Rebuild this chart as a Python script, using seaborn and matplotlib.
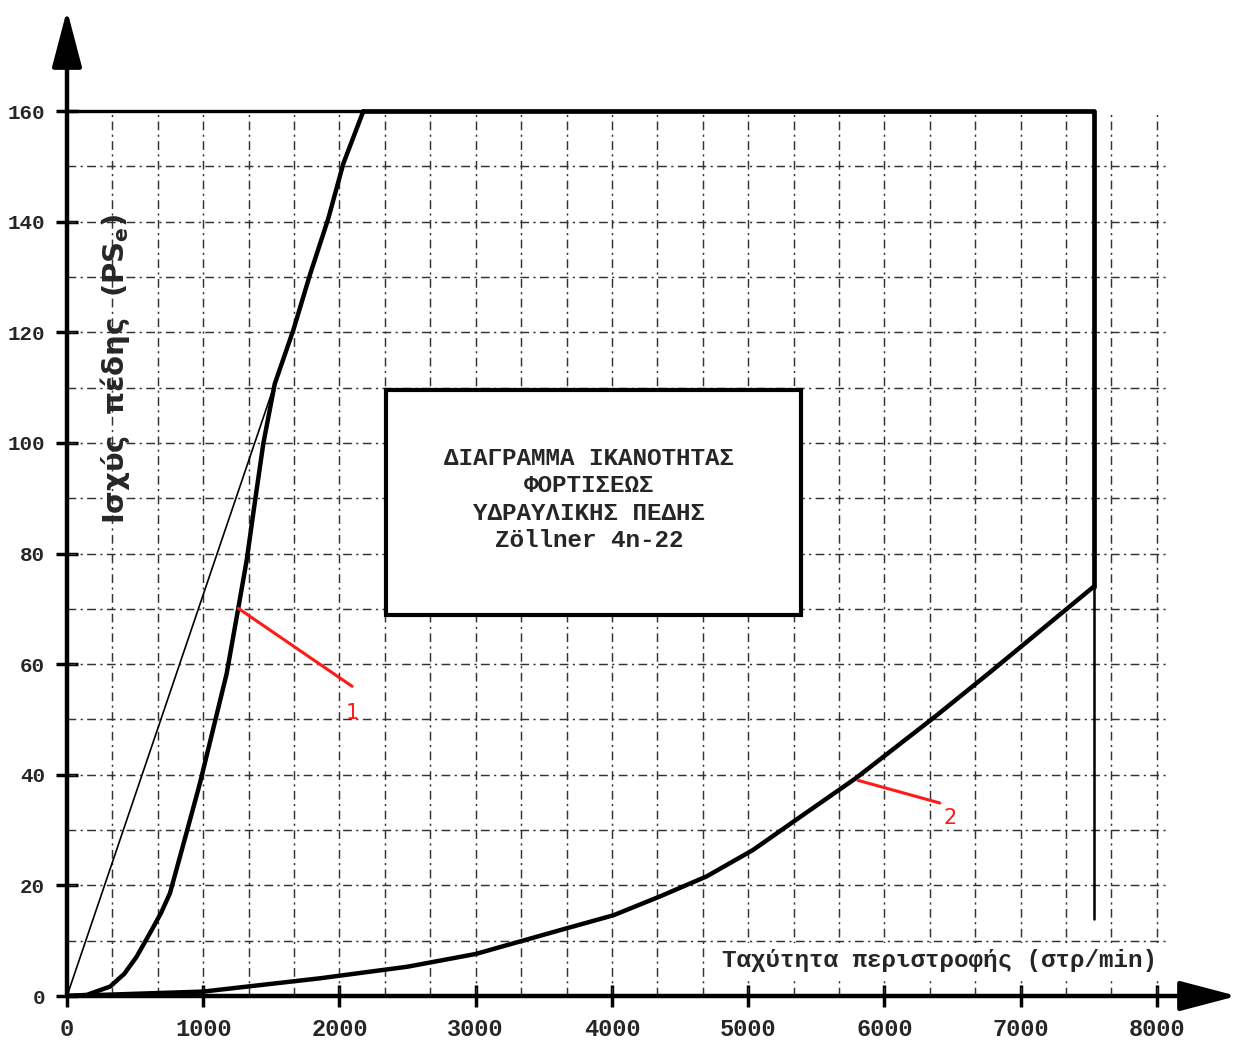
import numpy as np
import pandas as pd
import seaborn as sns
import matplotlib.pyplot as plt
from matplotlib.patches import Rectangle

# values: speed (rpm) vs brake power (PS)
curve1_rpm = [0, 145, 316, 420, 511, 621, 690, 756, 866, 976, 1074, 1172, 1257, 1319, 1380,
              1441, 1525, 1661, 1783, 1918, 2028, 2175]
curve1_ps = [0, 0.2, 1.7, 4.0, 7.1, 11.9, 15.0, 18.6, 28.5, 38.5, 48.4, 58.3, 70.1, 78.8, 89.5,
             99.9, 110.7, 120.4, 130.4, 140.6, 150.5, 160]

torque_rpm = [0, 1525]
torque_ps = [0, 110.7]

curve2_rpm = [0, 1000, 1857, 2500, 3000, 3618, 4011, 4352, 4693, 5035, 5348, 5791, 6371,
              6763, 7535]
curve2_ps = [0, 0.8, 3.2, 5.3, 7.6, 11.9, 14.6, 18.0, 21.6, 26.4, 31.8, 39.4, 50.5,
             58.3, 74.0]

top_rpm = [0, 2175]
top_ps = [160, 160]
limit_rpm = [2175, 7535, 7535]
limit_ps = [160, 160, 74]
tail_rpm = [7535, 7535]
tail_ps = [74, 14]

x_ticks = [0, 1000, 2000, 3000, 4000, 5000, 6000, 7000, 8000]
y_ticks = [0, 20, 40, 60, 80, 100, 120, 140, 160]

box_text = "ΔΙΑΓΡΑΜΜΑ ΙΚΑΝΟΤΗΤΑΣ\nΦΟΡΤΙΣΕΩΣ\nΥΔΡΑΥΛΙΚΗΣ ΠΕΔΗΣ\nZöllner 4n-22"
x_label = "Ταχύτητα περιστροφής (στρ/min)"
y_label = "Ισχύς  πέδης  (PS$_\\mathregular{e}$)"

sns.set_theme(style="white")
plt.rcParams['font.family'] = ['Liberation Mono', 'DejaVu Sans']

fig = plt.figure(figsize=(12.48, 10.5), dpi=100)
ax = fig.add_axes([67 / 1248, 54 / 1050, 1170 / 1248, 986 / 1050])
xmax, ymax = 8588, 178.3
ax.set_xlim(0, xmax)
ax.set_ylim(0, ymax)
for s in ax.spines.values():
    s.set_visible(False)

# graph-paper style grid (dash-dot, only inside the chart area)
grid_kw = dict(color="#333333", lw=1.05, linestyle=(0, (6, 3, 1.5, 3)), zorder=1)
ax.hlines(np.arange(10, 160, 10), 0, 8080, **grid_kw)
ax.vlines(np.arange(1, 25) * 1000 / 3, 0, 160, **grid_kw)

# curves
sns.lineplot(x=torque_rpm, y=torque_ps, ax=ax, color="black", lw=1.2, zorder=3)
sns.lineplot(x=curve1_rpm, y=curve1_ps, ax=ax, color="black", lw=3.2, zorder=3)
sns.lineplot(x=curve2_rpm, y=curve2_ps, ax=ax, color="black", lw=3.2, zorder=3)
sns.lineplot(x=top_rpm, y=top_ps, ax=ax, color="black", lw=2.4, zorder=3,
             sort=False, estimator=None)
sns.lineplot(x=limit_rpm, y=limit_ps, ax=ax, color="black", lw=3.4, zorder=3,
             sort=False, estimator=None)
sns.lineplot(x=tail_rpm, y=tail_ps, ax=ax, color="black", lw=1.8, zorder=3,
             sort=False, estimator=None)

# title box
ax.add_patch(Rectangle((2338, 68.9), 3052, 40.7, fc="white", ec="black", lw=3, zorder=5))
ax.text(3830, 89.8, box_text, ha="center", va="center", fontsize=17.5, fontweight="bold",
        linespacing=1.25, zorder=6)

# red pointers
ax.plot([1257, 2093], [70.1, 56.0], color="#ff1a1a", lw=2.2, zorder=4)
ax.text(2093, 51.2, "1", color="#ff1a1a", fontsize=15, family="DejaVu Sans",
        ha="center", va="center")
ax.plot([5805, 6407], [39.0, 34.9], color="#ff1a1a", lw=2.2, zorder=4)
ax.text(6481, 32.2, "2", color="#ff1a1a", fontsize=15, family="DejaVu Sans",
        ha="center", va="center")

# axis labels inside the chart
ax.text(6407, 6.5, x_label, ha="center", va="center", fontsize=17.5, fontweight="bold",
        bbox=dict(fc="white", ec="none", pad=4), zorder=4)
ax.text(352, 113.5, y_label, ha="center", va="center", rotation=90, fontsize=21,
        fontweight="bold", family="DejaVu Sans")

# arrowed axes
arrow = dict(arrowstyle="-|>,head_length=1.6,head_width=0.42", color="black", lw=3.2,
             mutation_scale=22, shrinkA=0, shrinkB=0)
ax.annotate("", xy=(xmax, 0), xytext=(0, 0), arrowprops=arrow, annotation_clip=False)
ax.annotate("", xy=(0, ymax), xytext=(0, 0), arrowprops=arrow, annotation_clip=False)

ax.set_xticks(x_ticks)
ax.set_yticks(y_ticks)
ax.tick_params(axis="both", direction="inout", length=16, width=2.5, color="black",
               left=True, bottom=True)
ax.tick_params(axis="x", pad=8, labelsize=17)
ax.tick_params(axis="y", pad=8, labelsize=15)
for lab in ax.get_xticklabels() + ax.get_yticklabels():
    lab.set_fontweight("bold")
ax.set_xlabel("")
ax.set_ylabel("")

fig.savefig("out.png", dpi=100)
